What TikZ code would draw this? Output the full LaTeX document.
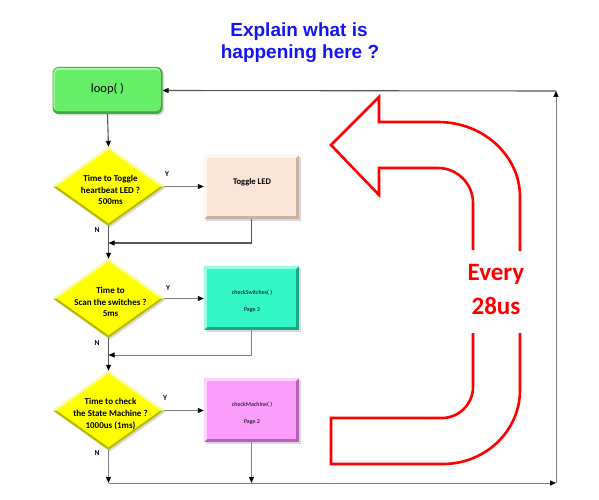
\documentclass[tikz,border=0pt]{standalone}
\usepackage{fontspec}
\setmainfont{Carlito}
\newfontfamily\titlefont{Liberation Sans}
\usetikzlibrary{arrows.meta,shapes.geometric,shadows}
\definecolor{loopG}{HTML}{66EE66}
\definecolor{loopL}{HTML}{A6F7A6}
\definecolor{loopE}{HTML}{3AB03A}
\definecolor{peachF}{HTML}{FBE5D6}
\definecolor{peachL}{HTML}{FFF6F0}
\definecolor{peachE}{HTML}{C9B2A4}
\definecolor{tealF}{HTML}{33F7C7}
\definecolor{tealL}{HTML}{9AFCE3}
\definecolor{tealE}{HTML}{1CA884}
\definecolor{pinkF}{HTML}{FB9DFB}
\definecolor{pinkL}{HTML}{FFD2FF}
\definecolor{pinkE}{HTML}{B85FB8}
\definecolor{yelF}{HTML}{FFFF00}
\definecolor{yelL}{HTML}{FFFF99}
\definecolor{yelE}{HTML}{B8B800}
\definecolor{lineG}{HTML}{555555}
\definecolor{lineL}{HTML}{808080}
\definecolor{titleB}{HTML}{1414F0}
% bevel for a rectangular node: #1 node, #2 light, #3 main
\newcommand\mybevel[3]{%
  \fill[#2] (#1.north west) -- (#1.north east) -- ([xshift=-3pt,yshift=-3pt]#1.north east)
     -- ([xshift=3pt,yshift=-3pt]#1.north west) -- ([xshift=3pt,yshift=3pt]#1.south west) -- (#1.south west) -- cycle;
  \fill[#3] ([xshift=3pt,yshift=-3pt]#1.north west) rectangle ([xshift=-3pt,yshift=3pt]#1.south east);}
% bevel for a diamond node
\newcommand\mydiabevel[1]{%
  \fill[yelL] (#1.west) -- (#1.north) -- (#1.east) -- ([xshift=-4pt]#1.east) -- ([yshift=-3pt]#1.north) -- ([xshift=4pt]#1.west) -- cycle;
  \fill[yelF] ([yshift=-3pt]#1.north) -- ([xshift=-4pt]#1.east) -- ([yshift=3pt]#1.south) -- ([xshift=4pt]#1.west) -- cycle;}
\begin{document}
\begin{tikzpicture}[x=1pt,y=-1pt,
  tip/.style={-{Triangle[length=6pt,width=5pt,color=black]}},
  flow/.style={draw=lineG, line width=1.1pt, tip},
  thin/.style={draw=lineL, line width=0.9pt, tip},
  shad/.style={drop shadow={shadow xshift=1.5pt, shadow yshift=-1.5pt, opacity=0.3}},
  box/.style={rectangle, minimum width=95pt, minimum height=64pt, inner sep=0pt, shad},
  dia/.style={diamond, minimum width=111pt, minimum height=79pt, inner sep=0pt, fill=yelE, shad},
  dtext/.style={font=\bfseries\fontsize{9}{11.7}\selectfont, align=center, inner sep=0pt},
  btext/.style={font=\fontsize{6}{17}\selectfont, align=center, inner sep=0pt},
  yn/.style={font=\bfseries\fontsize{7.5}{8}\selectfont, text=black!85!blue, inner sep=0pt},
  title/.style={font=\titlefont\bfseries\fontsize{19}{22}\selectfont, text=titleB, inner sep=0pt}
]
\useasboundingbox (0,0) rectangle (599,500);

% title
\node[title] (t1) at (299,32) {Explain what is};
\node[title] (t2) at (300,54) {happening here ?};

% loop box
\node[rectangle, rounded corners=6pt, minimum width=110pt, minimum height=47pt, fill=loopE, shad] (loop) at (107.5,90.5) {};
\fill[loopL, rounded corners=5pt] ([xshift=1pt,yshift=-1pt]loop.north west) rectangle ([xshift=-2pt,yshift=3pt]loop.south east);
\fill[loopG, rounded corners=4pt] ([xshift=2.5pt,yshift=-3pt]loop.north west) rectangle ([xshift=-2.5pt,yshift=3.5pt]loop.south east);
\node[font=\fontsize{12.5}{14}\selectfont, inner sep=0pt] (loopt) at (107.5,89) {loop( )};

% diamonds
\node[dia] (d1) at (108.5,186.5) {};
\node[dia] (d2) at (108.5,298.5) {};
\node[dia] (d3) at (108.5,410.5) {};
\mydiabevel{d1}
\mydiabevel{d2}
\mydiabevel{d3}
\node[dtext] (d1t) at (110.5,190) {Time to Toggle\\heartbeat LED ?\\500ms};
\node[dtext] (d2t) at (110.5,302) {Time to\\Scan the switches ?\\5ms};
\node[dtext] (d3t) at (110.5,414) {Time to check\\the State Machine ?\\1000us (1ms)};

% process boxes
\node[box, fill=peachE] (b1) at (251.5,187) {};
\node[box, fill=tealE] (b2) at (251.5,298) {};
\node[box, fill=pinkE] (b3) at (251.5,410) {};
\mybevel{b1}{peachL}{peachF}
\mybevel{b2}{tealL}{tealF}
\mybevel{b3}{pinkL}{pinkF}
\node[font=\bfseries\fontsize{8.6}{10}\selectfont, inner sep=0pt] (b1t) at (252,182) {Toggle LED};
\node[btext] (b2t) at (252,301.5) {checkSwitches( )\\Page 3};
\node[btext] (b3t) at (252,413.5) {checkMachine( )\\Page 2};

% Y / N labels
\node[yn] (y1) at (167,174) {Y};
\node[yn] (y2) at (168,288) {Y};
\node[yn] (y3) at (165,398) {Y};
\node[yn] (n1) at (97,230) {N};
\node[yn] (n2) at (97,343) {N};
\node[yn] (n3) at (97,453) {N};

% coordinates
\coordinate (r1) at (108.5,243);
\coordinate (r2) at (108.5,355);
\coordinate (bl) at (108.5,483);
\coordinate (b3b) at (251.5,483);
\coordinate (br) at (556,483);
\coordinate (tr) at (556,91);

% connectors
\draw[flow] (loop.south) -- (d1.north);
\draw[thin] (d1.east) -- (d1.east -| b1.west);
\draw[flow] (b1.south) |- (r1);
\draw[flow] (d1.south) -- (d2.north);
\draw[thin] (d2.east) -- (d2.east -| b2.west);
\draw[thin] (b2.south) |- (r2);
\draw[flow] (d2.south) -- (d3.north);
\draw[thin] (d3.east) -- (d3.east -| b3.west);
\draw[thin] (d3.south) -- (bl);
\draw[thin] (b3.south) -- (b3b);
\draw[thin] (bl) -- (br);
\draw[thin] (br) -- (tr);
\draw[flow] (tr) -- (loop.east);

% red U-turn arrow
\draw[red, line width=2.6pt, line join=miter]
  (520,251) -- (520,197) .. controls (520,155.6) and (483.3,122) .. (438,122)
  -- (379,122) -- (379,97) -- (331,145) -- (379,195) -- (379,168) -- (438,168)
  .. controls (457.3,168) and (473,183.7) .. (473,203) -- (473,250);
\draw[red, line width=2.6pt, line join=miter]
  (520,333) -- (520,390) .. controls (520,430.8) and (485.5,464) .. (443,464)
  -- (331,464) -- (331,418) -- (442,418)
  .. controls (459,418) and (473,404) .. (473,387) -- (473,333);
\node[font=\bfseries\fontsize{25}{34}\selectfont, text=red, align=center, inner sep=0pt] (ev) at (496,289) {Every\\28us};
\end{tikzpicture}
\end{document}
